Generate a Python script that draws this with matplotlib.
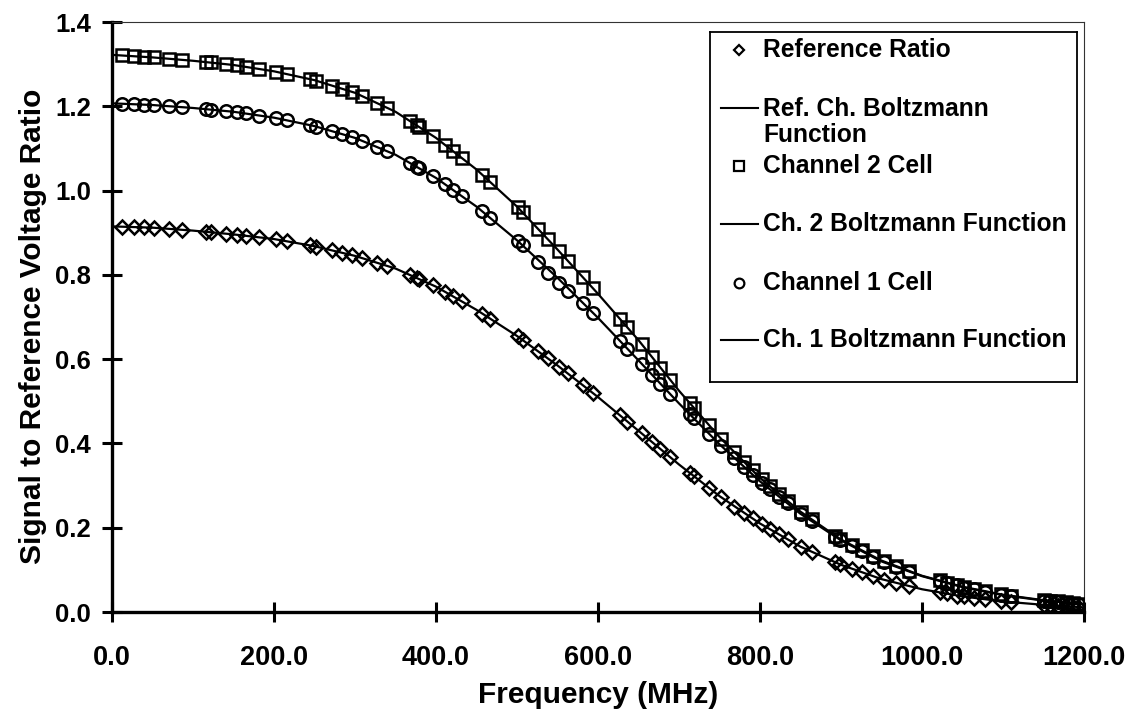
import matplotlib
matplotlib.use("Agg")
import matplotlib.pyplot as plt

plt.rcParams["font.family"] = ["Liberation Sans", "DejaVu Sans"]
plt.rcParams["font.weight"] = "bold"

# ----------------------------
# MEASURED POINTS
# ----------------------------
freq_mhz = [12, 27, 39, 52, 70, 86, 116, 122, 141, 154, 166, 181, 202, 216, 245, 252,
            271, 284, 296, 309, 327, 340, 368, 376, 379, 396, 411, 421, 432, 457, 467,
            501, 507, 526, 538, 552, 563, 581, 594, 627, 636, 654, 667, 677, 689, 713,
            718, 737, 752, 768, 780, 791, 802, 812, 823, 834, 851, 864, 893, 899, 913,
            926, 940, 953, 968, 984, 1022, 1031, 1043, 1052, 1064, 1078, 1098, 1110,
            1150, 1158, 1168, 1178, 1186, 1192]

ref_ratio = [0.914, 0.914, 0.913, 0.912, 0.909, 0.907, 0.902, 0.901, 0.898, 0.895, 0.892,
             0.889, 0.884, 0.880, 0.870, 0.867, 0.858, 0.852, 0.847, 0.840, 0.829, 0.821,
             0.800, 0.793, 0.790, 0.775, 0.760, 0.749, 0.737, 0.708, 0.696, 0.654, 0.645,
             0.619, 0.602, 0.582, 0.566, 0.539, 0.519, 0.467, 0.452, 0.424, 0.403, 0.387,
             0.368, 0.330, 0.322, 0.295, 0.272, 0.250, 0.236, 0.222, 0.208, 0.197, 0.185,
             0.173, 0.154, 0.143, 0.118, 0.113, 0.103, 0.094, 0.085, 0.077, 0.069, 0.062,
             0.047, 0.044, 0.039, 0.037, 0.034, 0.030, 0.025, 0.023, 0.017, 0.016, 0.015,
             0.014, 0.013, 0.012]

ch2_cell = [1.321, 1.319, 1.317, 1.316, 1.313, 1.310, 1.305, 1.304, 1.300, 1.297, 1.293,
            1.289, 1.282, 1.276, 1.264, 1.261, 1.249, 1.242, 1.234, 1.224, 1.208, 1.196,
            1.165, 1.155, 1.151, 1.130, 1.109, 1.094, 1.077, 1.038, 1.020, 0.960, 0.948,
            0.909, 0.884, 0.856, 0.833, 0.795, 0.768, 0.696, 0.676, 0.635, 0.604, 0.580,
            0.551, 0.496, 0.485, 0.444, 0.411, 0.380, 0.357, 0.336, 0.315, 0.299, 0.281,
            0.264, 0.237, 0.220, 0.181, 0.173, 0.159, 0.146, 0.132, 0.120, 0.109, 0.097,
            0.075, 0.070, 0.064, 0.059, 0.055, 0.049, 0.042, 0.038, 0.028, 0.027, 0.025,
            0.023, 0.021, 0.020]

ch1_cell = [1.206, 1.205, 1.204, 1.203, 1.200, 1.198, 1.193, 1.192, 1.189, 1.186, 1.183,
            1.178, 1.172, 1.167, 1.155, 1.152, 1.141, 1.134, 1.127, 1.118, 1.103, 1.093,
            1.065, 1.056, 1.053, 1.034, 1.015, 1.001, 0.986, 0.951, 0.935, 0.880, 0.870,
            0.830, 0.805, 0.780, 0.762, 0.734, 0.709, 0.644, 0.625, 0.589, 0.562, 0.542,
            0.517, 0.470, 0.460, 0.423, 0.394, 0.366, 0.345, 0.326, 0.307, 0.292, 0.274,
            0.258, 0.232, 0.216, 0.179, 0.171, 0.157, 0.144, 0.130, 0.118, 0.107, 0.096,
            0.074, 0.069, 0.063, 0.058, 0.054, 0.048, 0.041, 0.037, 0.027, 0.026, 0.024,
            0.022, 0.020, 0.019]

# ----------------------------
# BOLTZMANN FIT CURVES
# ----------------------------
fit_freq = [0, 50, 100, 150, 200, 250, 300, 350, 400, 450, 500, 550, 600, 650, 700, 750,
            800, 850, 900, 950, 1000, 1050, 1100, 1150, 1200]
ref_fit = [0.915, 0.912, 0.905, 0.896, 0.885, 0.868, 0.845, 0.815, 0.772, 0.717, 0.655,
           0.585, 0.510, 0.430, 0.350, 0.275, 0.210, 0.155, 0.112, 0.078, 0.054, 0.037,
           0.025, 0.017, 0.011]
ch2_fit = [1.322, 1.316, 1.308, 1.298, 1.283, 1.262, 1.232, 1.187, 1.125, 1.050, 0.962,
           0.860, 0.755, 0.645, 0.525, 0.415, 0.318, 0.238, 0.172, 0.122, 0.086, 0.060,
           0.041, 0.028, 0.019]
ch1_fit = [1.207, 1.203, 1.196, 1.187, 1.173, 1.153, 1.125, 1.085, 1.030, 0.962, 0.882,
           0.793, 0.698, 0.597, 0.495, 0.398, 0.310, 0.233, 0.170, 0.120, 0.085, 0.059,
           0.040, 0.027, 0.018]

x_ticks = [0, 200, 400, 600, 800, 1000, 1200]
y_ticks = [0.0, 0.2, 0.4, 0.6, 0.8, 1.0, 1.2, 1.4]

W, H = 1133, 720
fig = plt.figure(figsize=(W / 100, H / 100), dpi=100)
ax = fig.add_axes([112 / W, 108 / H, 972 / W, 590 / H])

mk = dict(linestyle="none", markerfacecolor="none", markeredgecolor="black",
          markeredgewidth=1.8, zorder=3)
line_kw = dict(color="black", linewidth=1.6, zorder=2)

ax.plot(fit_freq, ref_fit, **line_kw)
ax.plot(fit_freq, ch2_fit, **line_kw)
ax.plot(fit_freq, ch1_fit, **line_kw)
ax.plot(freq_mhz, ref_ratio, marker="D", markersize=7, **mk)
ax.plot(freq_mhz, ch2_cell, marker="s", markersize=9, **mk)
ax.plot(freq_mhz, ch1_cell, marker="o", markersize=9, **mk)

ax.set_xlim(0, 1200)
ax.set_ylim(0, 1.4)
ax.set_xticks(x_ticks)
ax.set_xticklabels([f"{v:.1f}" for v in x_ticks], fontsize=19.5, fontweight="bold")
ax.set_yticks(y_ticks)
ax.set_yticklabels([f"{v:.1f}" for v in y_ticks], fontsize=18.5, fontweight="bold")
ax.tick_params(axis="both", direction="inout", length=14, width=2.2)
ax.tick_params(axis="x", pad=17)
ax.tick_params(axis="y", pad=8)

for side in ["left", "bottom"]:
    ax.spines[side].set_linewidth(2.4)
for side in ["top", "right"]:
    ax.spines[side].set_linewidth(0.8)
    ax.spines[side].set_color("#333333")

ax.set_xlabel("Frequency (MHz)", fontsize=21.5, fontweight="bold")
ax.set_ylabel("Signal to Reference Voltage Ratio", fontsize=21.5, fontweight="bold")
ax.xaxis.set_label_coords(0.5, -(681 - 612) / 590)
ax.yaxis.set_label_coords(-(112 - 47) / 972, (612 - 326) / 590)

# ----------------------------
# LEGEND BOX (pixel-style coordinates inside its own axes)
# ----------------------------
lx0, ly0, lw, lh = 710, 32, 367, 350
lax = fig.add_axes([lx0 / W, 1 - (ly0 + lh) / H, lw / W, lh / H])
lax.set_xlim(0, lw)
lax.set_ylim(lh, 0)
lax.set_xticks([])
lax.set_yticks([])
for s in lax.spines.values():
    s.set_linewidth(1.3)

txt_kw = dict(fontsize=17.7, fontweight="bold", va="center", ha="left")
text_x = 53

lax.plot([29], [18], marker="D", markersize=5.2, markeredgewidth=1.6,
         markerfacecolor="none", markeredgecolor="black", linestyle="none")
lax.text(text_x, 18, "Reference Ratio", **txt_kw)

lax.plot([11, 48], [76, 76], color="black", linewidth=1.5)
lax.text(text_x, 90, "Ref. Ch. Boltzmann\nFunction", linespacing=1.08, **txt_kw)

lax.plot([29], [134], marker="s", markersize=6.5, markeredgewidth=1.6,
         markerfacecolor="none", markeredgecolor="black", linestyle="none")
lax.text(text_x, 134, "Channel 2 Cell", **txt_kw)

lax.plot([11, 48], [192, 192], color="black", linewidth=1.5)
lax.text(text_x, 192, "Ch. 2 Boltzmann Function", **txt_kw)

lax.plot([29], [251], marker="o", markersize=7, markeredgewidth=1.6,
         markerfacecolor="none", markeredgecolor="black", linestyle="none")
lax.text(text_x, 251, "Channel 1 Cell", **txt_kw)

lax.plot([11, 48], [308, 308], color="black", linewidth=1.5)
lax.text(text_x, 308, "Ch. 1 Boltzmann Function", **txt_kw)

fig.savefig("out.png", dpi=100)
